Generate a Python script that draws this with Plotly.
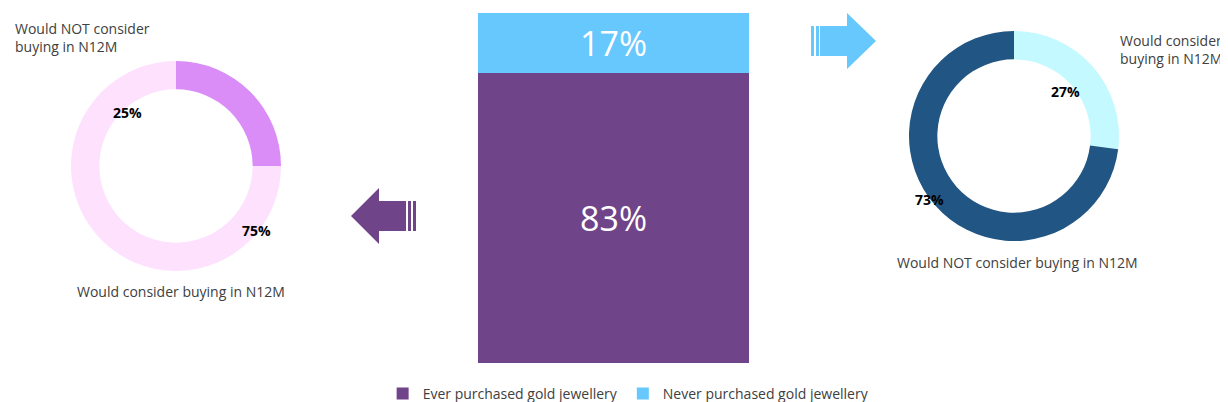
import plotly.graph_objects as go

W, H = 1228, 402

bar_labels = ["Ever purchased gold jewellery", "Never purchased gold jewellery"]
bar_values = [83, 17]
bar_colors = ["#6f4488", "#66c8fc"]

left_labels = ["Would NOT consider buying in N12M", "Would consider buying in N12M"]
left_values = [25, 75]
left_colors = ["#da8cf7", "#fde1fd"]

right_labels = ["Would consider buying in N12M", "Would NOT consider buying in N12M"]
right_values = [27, 73]
right_colors = ["#c4faff", "#215584"]


def px_x(x):
    return x / W


def px_y(y):
    return 1 - y / H


fig = go.Figure()

for lab, val, col in zip(bar_labels, bar_values, bar_colors):
    fig.add_trace(go.Bar(
        x=["all"], y=[val], name=lab, marker=dict(color=col, line=dict(width=0)),
        text=[f"{val}%"], textposition="inside", insidetextanchor="middle",
        textfont=dict(color="white", size=34, family="Open Sans"),
        hoverinfo="skip",
    ))

fig.add_trace(go.Pie(
    values=left_values, labels=left_labels, hole=0.73, sort=False,
    direction="counterclockwise", rotation=0, textinfo="none",
    marker=dict(colors=left_colors), showlegend=False,
    domain=dict(x=[px_x(63), px_x(273)], y=[px_y(263), px_y(53)]),
))
fig.add_trace(go.Pie(
    values=right_values, labels=right_labels, hole=0.73, sort=False,
    direction="clockwise", rotation=0, textinfo="none",
    marker=dict(colors=right_colors), showlegend=False,
    domain=dict(x=[px_x(901), px_x(1111)], y=[px_y(233), px_y(23)]),
))

font = dict(family="Open Sans", size=14, color="#404040")
notes = [
    (5, 30, "Would NOT consider<br>buying in N12M", "left"),
    (67, 283, "Would consider buying in N12M", "left"),
    (1110, 42, "Would consider<br>buying in N12M", "left"),
    (887, 254, "Would NOT consider buying in N12M", "left"),
]
for x, y, t, anc in notes:
    fig.add_annotation(x=px_x(x), y=px_y(y), xref="paper", yref="paper", text=t,
                       showarrow=False, xanchor=anc, yanchor="middle", align="left", font=font)

pct = [(103, 93, f"{left_values[0]}%"), (232, 222, f"{left_values[1]}%"),
       (1074, 72, f"{right_values[0]}%"), (938, 191, f"{right_values[1]}%")]
for x, y, t in pct:
    fig.add_annotation(x=px_x(x), y=px_y(y), xref="paper", yref="paper", text=f"<b>{t}</b>",
                       showarrow=False, font=dict(family="Open Sans", size=14, color="black"))


def path(pts):
    return "M " + " L ".join(f"{px_x(x)},{px_y(y)}" for x, y in pts) + " Z"


shapes = []
# left arrow
shapes.append(dict(type="path", xref="paper", yref="paper", line=dict(width=0), fillcolor=bar_colors[0],
                   path=path([(343, 208), (371, 180), (371, 193), (398, 193), (398, 223), (371, 223), (371, 236)])))
for x0 in (400, 405):
    shapes.append(dict(type="rect", xref="paper", yref="paper", line=dict(width=0), fillcolor=bar_colors[0],
                       x0=px_x(x0), x1=px_x(x0 + 3), y0=px_y(223), y1=px_y(193)))
# right arrow
shapes.append(dict(type="path", xref="paper", yref="paper", line=dict(width=0), fillcolor=bar_colors[1],
                   path=path([(868, 33), (839, 5), (839, 18), (812, 18), (812, 48), (839, 48), (839, 61)])))
for x0 in (803, 808):
    shapes.append(dict(type="rect", xref="paper", yref="paper", line=dict(width=0), fillcolor=bar_colors[1],
                       x0=px_x(x0), x1=px_x(x0 + 3), y0=px_y(48), y1=px_y(18)))

fig.update_layout(
    width=W, height=H, margin=dict(l=0, r=0, t=0, b=0),
    paper_bgcolor="white", plot_bgcolor="white",
    barmode="stack", bargap=0, shapes=shapes,
    xaxis=dict(domain=[px_x(470), px_x(741)], visible=False),
    yaxis=dict(domain=[px_y(355), px_y(5)], range=[0, 100], visible=False),
    legend=dict(orientation="h", x=0.505, xanchor="center", y=px_y(386), yanchor="middle",
                font=font, traceorder="normal", itemwidth=30),
    font=font,
)

fig.write_html("out.html")
